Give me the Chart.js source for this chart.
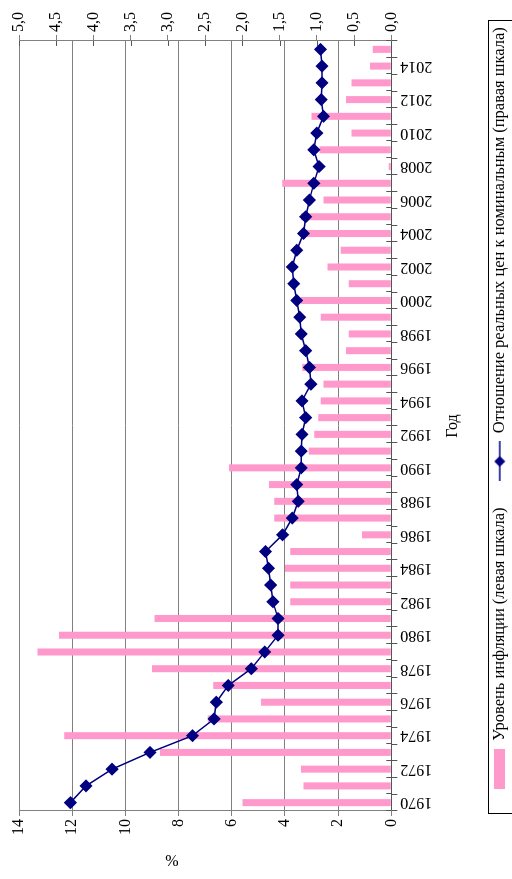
<!DOCTYPE html>
<html>
<head>
<meta charset="utf-8">
<script src="https://cdn.jsdelivr.net/npm/chart.js@4.4.0/dist/chart.umd.min.js"></script>
<style>
html, body { margin: 0; padding: 0; background: #fff; overflow: hidden; }
#wrap {
    position: absolute; left: 0; top: 0;
    width: 879px; height: 512px;
    transform-origin: 0 0;
    transform: translate(0, 879px) rotate(-90deg);
}
</style>
</head>
<body>
<div id="wrap"><canvas id="myChart" width="879" height="512"></canvas></div>
<script>
var years = [
    "1970", "1971", "1972", "1973", "1974", "1975", "1976", "1977", "1978", "1979",
    "1980", "1981", "1982", "1983", "1984", "1985", "1986", "1987", "1988", "1989",
    "1990", "1991", "1992", "1993", "1994", "1995", "1996", "1997", "1998", "1999",
    "2000", "2001", "2002", "2003", "2004", "2005", "2006", "2007", "2008", "2009",
    "2010", "2011", "2012", "2013", "2014", "2015"
];

// inflation, % (left scale)
var inflation = [
    5.6, 3.3, 3.4, 8.7, 12.3, 6.9, 4.9, 6.7, 9.0, 13.3,
    12.5, 8.9, 3.8, 3.8, 4.0, 3.8, 1.1, 4.4, 4.4, 4.6,
    6.1, 3.1, 2.9, 2.75, 2.65, 2.55, 3.35, 1.7, 1.6, 2.65,
    3.4, 1.6, 2.4, 1.9, 3.3, 3.4, 2.55, 4.1, 0.1, 2.7,
    1.5, 3.0, 1.7, 1.5, 0.8, 0.7
];

// real / nominal price ratio (right scale)
var ratio = [
    4.31, 4.10, 3.75, 3.24, 2.67, 2.38, 2.35, 2.19, 1.88, 1.70,
    1.52, 1.52, 1.59, 1.62, 1.65, 1.69, 1.46, 1.33, 1.25, 1.27,
    1.21, 1.21, 1.20, 1.15, 1.20, 1.08, 1.10, 1.15, 1.21, 1.23,
    1.27, 1.31, 1.33, 1.27, 1.18, 1.15, 1.10, 1.04, 0.97, 1.04,
    1.00, 0.91, 0.94, 0.93, 0.93, 0.95
];

var leftTicks = [0, 2, 4, 6, 8, 10, 12, 14];
var rightTicks = [0, 0.5, 1, 1.5, 2, 2.5, 3, 3.5, 4, 4.5, 5];

var legendLabels = [
    "Уровень инфляции (левая шкала)",
    "Отношение реальных цен к номинальным (правая шкала)"
];

var serif = '"Liberation Serif", "Times New Roman", serif';
var pink = "#ff99cc";
var navy = "#000080";

// small icons for the legend
function barIcon() {
    var c = document.createElement("canvas");
    c.width = 40; c.height = 11;
    var g = c.getContext("2d");
    g.fillStyle = pink;
    g.fillRect(0, 0, 40, 11);
    return c;
}
function lineIcon() {
    var c = document.createElement("canvas");
    c.width = 40; c.height = 12;
    var g = c.getContext("2d");
    g.strokeStyle = navy;
    g.lineWidth = 1.5;
    g.beginPath(); g.moveTo(0, 6); g.lineTo(40, 6); g.stroke();
    g.fillStyle = navy;
    g.beginPath(); g.moveTo(20, 0.5); g.lineTo(25.5, 6); g.lineTo(20, 11.5); g.lineTo(14.5, 6); g.closePath(); g.fill();
    return c;
}
var legendIcons = [barIcon(), lineIcon()];

var extras = {
    id: "extras",
    afterLayout: function (chart) {
        // push the legend row so it starts a bit right of the plot's left edge
        var lg = chart.legend;
        var pad = lg.options.labels.padding;
        var cur = (lg.left + pad + lg.right - lg.lineWidths[0]) / 2;
        var shift = chart.chartArea.left + 22 - cur;
        lg.left += shift;
        lg.right += shift;
    },
    afterDraw: function (chart) {
        var ctx = chart.ctx;
        var area = chart.chartArea;
        var xs = chart.scales.x, y1 = chart.scales.y1;

        // "%" axis title
        ctx.save();
        ctx.translate(area.left - 51, area.top + 153);
        ctx.rotate(Math.PI / 2);
        ctx.font = "16px " + serif;
        ctx.fillStyle = "#000";
        ctx.textAlign = "center";
        ctx.textBaseline = "middle";
        ctx.fillText("%", 0, 0);
        ctx.restore();

        // inner halves of the crossing tick marks
        ctx.save();
        ctx.strokeStyle = "#555";
        ctx.lineWidth = 1;
        ctx.beginPath();
        var half = (xs.getPixelForValue(1) - xs.getPixelForValue(0)) / 2;
        for (var i = 0; i <= years.length; i++) {
            var px = Math.round(xs.getPixelForValue(0) - half + i * half * 2) + 0.5;
            ctx.moveTo(px, area.bottom);
            ctx.lineTo(px, area.bottom - 5);
        }
        rightTicks.forEach(function (v) {
            var py = Math.round(y1.getPixelForValue(v)) + 0.5;
            ctx.moveTo(area.right, py);
            ctx.lineTo(area.right - 5, py);
        });
        ctx.stroke();
        ctx.restore();

        // legend frame
        var hb = chart.legend.legendHitBoxes;
        if (hb && hb.length) {
            var first = hb[0], last = hb[hb.length - 1];
            var x0 = Math.round(first.left - 25) + 0.5;
            var y0 = Math.round(first.top - 4) + 0.5;
            var x1 = Math.round(last.left + last.width + 6) + 0.5;
            ctx.save();
            ctx.strokeStyle = "#000";
            ctx.lineWidth = 1;
            ctx.strokeRect(x0, y0, x1 - x0, 80);
            ctx.restore();
        }
    }
};

var ctx = document.getElementById("myChart").getContext("2d");
var myChart = new Chart(ctx, {
    data: {
        labels: years,
        datasets: [{
            type: "line",
            label: legendLabels[1],
            data: ratio,
            yAxisID: "y1",
            borderColor: navy,
            backgroundColor: navy,
            borderWidth: 1.5,
            pointStyle: "rectRot",
            pointRadius: 5.5,
            pointBackgroundColor: navy,
            pointBorderColor: navy,
            tension: 0,
            order: 0
        }, {
            type: "bar",
            label: legendLabels[0],
            data: inflation,
            yAxisID: "y",
            backgroundColor: pink,
            borderWidth: 0,
            barPercentage: 0.42,
            categoryPercentage: 1,
            order: 1
        }]
    },
    options: {
        responsive: false,
        animation: false,
        devicePixelRatio: 1,
        layout: {
            padding: { left: 41, right: 9, top: 19, bottom: -6 }
        },
        plugins: {
            tooltip: { enabled: false },
            legend: {
                position: "bottom",
                labels: {
                    usePointStyle: true,
                    pointStyleWidth: 40,
                    boxHeight: 12,
                    padding: 26,
                    color: "#000",
                    font: { family: serif, size: 16.5 },
                    generateLabels: function (chart) {
                        return [0, 1].map(function (i) {
                            return {
                                text: legendLabels[i],
                                pointStyle: legendIcons[i],
                                fillStyle: i === 0 ? pink : navy,
                                strokeStyle: i === 0 ? pink : navy,
                                lineWidth: 0,
                                hidden: false,
                                datasetIndex: i === 0 ? 1 : 0
                            };
                        });
                    }
                }
            }
        },
        scales: {
            x: {
                offset: true,
                grid: {
                    offset: true,
                    drawOnChartArea: false,
                    tickLength: 6,
                    color: "#555"
                },
                border: { color: "#555" },
                ticks: {
                    autoSkip: false,
                    minRotation: 90,
                    maxRotation: 90,
                    padding: 3,
                    color: "#000",
                    font: { family: serif, size: 16 },
                    callback: function (v, i) {
                        var y = years[i];
                        return parseInt(y, 10) % 2 === 0 ? y : "";
                    }
                },
                title: {
                    display: true,
                    text: "Год",
                    color: "#000",
                    font: { family: serif, size: 16 },
                    padding: { top: 8, bottom: 3 }
                }
            },
            y: {
                position: "left",
                min: 0,
                max: 14,
                afterBuildTicks: function (axis) {
                    axis.ticks = leftTicks.map(function (v) { return { value: v }; });
                },
                grid: { color: "#808080", tickLength: 5 },
                border: { color: "#808080" },
                ticks: {
                    padding: 3,
                    color: "#000",
                    font: { family: serif, size: 16 }
                }
            },
            y1: {
                position: "right",
                min: 0,
                max: 5,
                afterBuildTicks: function (axis) {
                    axis.ticks = rightTicks.map(function (v) { return { value: v }; });
                },
                grid: { drawOnChartArea: false, color: "#808080", tickLength: 6 },
                border: { color: "#808080" },
                ticks: {
                    padding: 3,
                    color: "#000",
                    font: { family: serif, size: 16 },
                    callback: function (v) { return v.toFixed(1).replace(".", ","); }
                }
            }
        }
    },
    plugins: [extras]
});
</script>
</body>
</html>
